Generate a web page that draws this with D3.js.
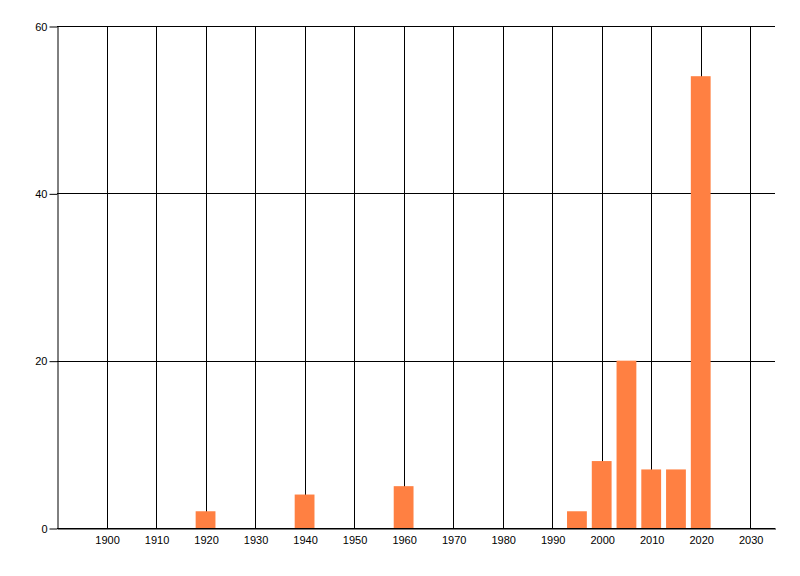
<!DOCTYPE html>
<html><head><meta charset="utf-8">
<script src="https://cdn.jsdelivr.net/npm/d3@7"></script>
<style>body{margin:0;background:#fff}svg{display:block}</style>
</head><body>
<script>
const years = [1920, 1940, 1960, 1995, 2000, 2005, 2010, 2015, 2020];
const counts = [2, 4, 5, 2, 8, 20, 7, 7, 54];
const xTicks = [1900,1910,1920,1930,1940,1950,1960,1970,1980,1990,2000,2010,2020,2030];
const yTicks = [0, 20, 40, 60];

const W = 800, H = 576;
const mLeft = 57, mRight = 775, mTop = 26, mBottom = 528;
const svg = d3.select("body").append("svg").attr("width", W).attr("height", H);
const x = d3.scaleLinear().domain([1890, 2035]).range([mLeft, mRight]);
const y = d3.scaleLinear().domain([0, 60]).range([mBottom, mTop]);
const font = "'Liberation Sans', Arial, sans-serif";

// vertical grid
svg.append("g").selectAll("line").data(xTicks).join("line")
  .attr("x1", d => Math.round(x(d)) + 0.5).attr("x2", d => Math.round(x(d)) + 0.5)
  .attr("y1", mTop).attr("y2", mBottom).attr("stroke", "#000").attr("stroke-width", 1);
// horizontal grid
svg.append("g").selectAll("line").data(yTicks).join("line")
  .attr("x1", mLeft).attr("x2", mRight)
  .attr("y1", d => Math.round(y(d)) + 0.5).attr("y2", d => Math.round(y(d)) + 0.5)
  .attr("stroke", "#000").attr("stroke-width", 1);

// bars
const bw = x(1894) - x(1890);
svg.append("g").selectAll("rect").data(years).join("rect")
  .attr("x", d => x(d) - bw / 2).attr("width", bw)
  .attr("y", (d, i) => y(counts[i])).attr("height", (d, i) => y(0) - y(counts[i]))
  .attr("fill", "#ff8042");

// y axis
const ya = svg.append("g").attr("transform", `translate(${mLeft + 0.5},0.5)`)
  .call(d3.axisLeft(y).tickValues(yTicks).tickSize(8).tickSizeOuter(0).tickPadding(2));
ya.select(".domain").attr("stroke", "#000");
ya.selectAll("text").attr("font-family", font).attr("font-size", 11).attr("fill", "#000");

// x axis
const xa = svg.append("g").attr("transform", `translate(0.5,${mBottom + 0.5})`)
  .call(d3.axisBottom(x).tickValues(xTicks).tickFormat(d3.format("d")).tickSize(0).tickSizeOuter(0).tickPadding(8));
xa.select(".domain").attr("stroke", "#000");
xa.selectAll("text").attr("font-family", font).attr("font-size", 11).attr("fill", "#000");
</script>
</body></html>
